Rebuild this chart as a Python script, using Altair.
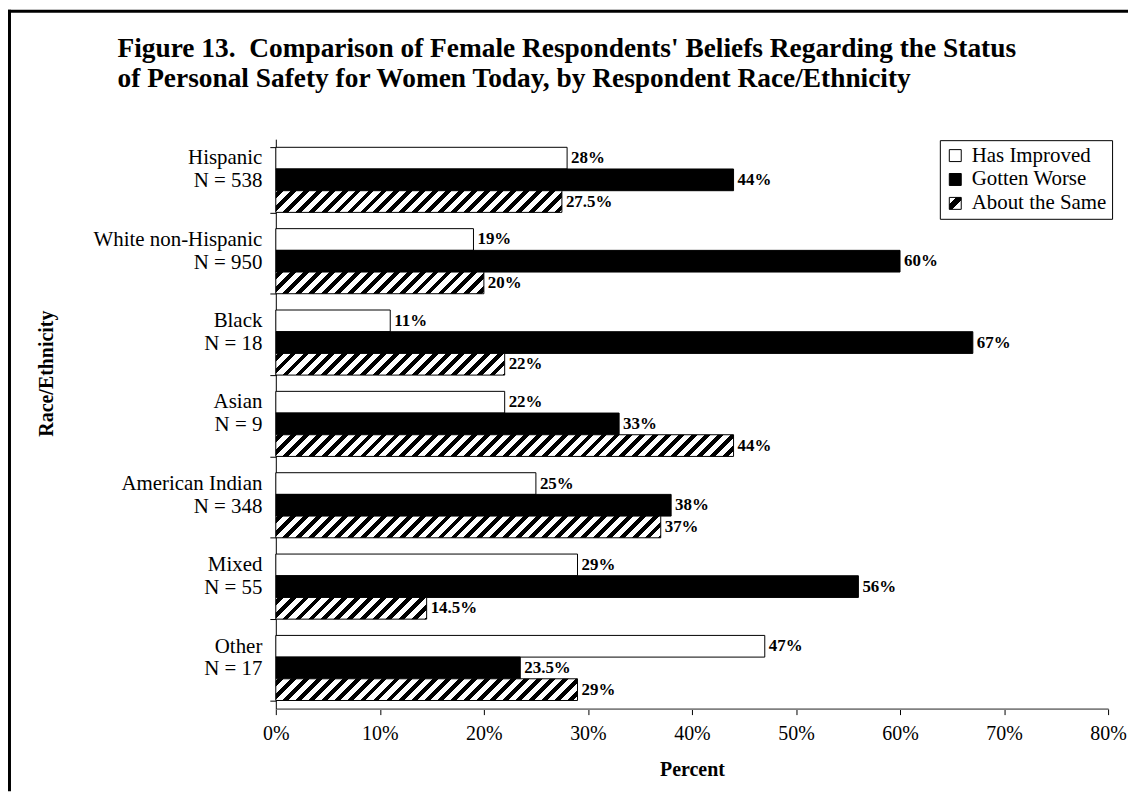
import altair as alt
import pandas as pd

# ---------------- data ----------------
categories = ["Hispanic", "White non-Hispanic", "Black", "Asian",
              "American Indian", "Mixed", "Other"]
sample_sizes = [538, 950, 18, 9, 348, 55, 17]
series_names = ["Has Improved", "Gotten Worse", "About the Same"]
has_improved = [28, 19, 11, 22, 25, 29, 47]
gotten_worse = [44, 60, 67, 33, 38, 56, 23.5]
about_same = [27.5, 20, 22, 44, 37, 14.5, 29]
x_ticks = [0, 10, 20, 30, 40, 50, 60, 70, 80]
title_lines = [
    "Figure 13.\u00a0 Comparison of Female Respondents' Beliefs Regarding the Status",
    "of Personal Safety for Women Today, by Respondent Race/Ethnicity",
]

# ---------------- layout ----------------
PLOT_W, PLOT_H = 836, 572
X_MAX = 80
PAD_INNER, PAD_OUTER = 0.2, 0.1
PAD = {"left": 269, "top": 130, "right": 20, "bottom": 83}
TOTAL_W = PLOT_W + PAD["left"] + PAD["right"]
TOTAL_H = PLOT_H + PAD["top"] + PAD["bottom"]
FONT = "Liberation Serif"

step = PLOT_H / (len(categories) - PAD_INNER + 2 * PAD_OUTER)
bar_h = step * (1 - PAD_INNER) / len(series_names)

labels = [f"{c}\nN = {n}" for c, n in zip(categories, sample_sizes)]
rows = []
for s, vals in zip(series_names, [has_improved, gotten_worse, about_same]):
    for c, lab, v in zip(categories, labels, vals):
        rows.append({"cat": c, "label": lab, "series": s, "value": v})
df = pd.DataFrame(rows)

# ---------------- hatch fill ----------------
PERIOD, BLACK_FRAC = 13.0, 0.45


def hatch(value):
    w = value / X_MAX * PLOT_W
    h = bar_h
    total = w + h
    a = w * total / (w * w + h * h)
    b = h * total / (w * w + h * h)
    stops = [{"offset": 0, "color": "white"}]
    k = 0
    while k * PERIOD < total:
        s = min((k * PERIOD + 2) / total, 1)
        e = min((k * PERIOD + 2 + BLACK_FRAC * PERIOD) / total, 1)
        stops += [{"offset": round(s, 5), "color": "white"},
                  {"offset": round(s, 5), "color": "black"},
                  {"offset": round(e, 5), "color": "black"},
                  {"offset": round(e, 5), "color": "white"}]
        k += 1
    stops.append({"offset": 1, "color": "white"})
    return {"gradient": "linear", "x1": 0, "y1": 0, "x2": a, "y2": b, "stops": stops}


legend_hatch = alt.ExprRef(expr=(
    "{gradient: 'linear', x1: 0, y1: 0, x2: 1, y2: 1, stops: ["
    "{offset: 0, color: 'white'}, {offset: 0.3, color: 'white'},"
    "{offset: 0.3, color: 'black'}, {offset: 0.62, color: 'black'},"
    "{offset: 0.62, color: 'white'}, {offset: 1, color: 'white'}]}"
))

# ---------------- encodings ----------------
y_enc = alt.Y(
    "label:N", sort=labels,
    scale=alt.Scale(paddingInner=PAD_INNER, paddingOuter=PAD_OUTER),
    axis=alt.Axis(
        title="Race/Ethnicity", labelExpr="split(datum.label, '\\n')",
        labelFont=FONT, labelFontSize=21, labelLineHeight=23, labelColor="black",
        labelPadding=8, labelLimit=300, labelOffset=-22, tickBand="extent", tickSize=6,
        tickColor="black", domainColor="black", domainWidth=1,
        titleFont=FONT, titleFontSize=20, titleFontWeight="bold", titleColor="black",
        titleX=-230, titleY=235, titleAngle=270, titleAlign="center",
        titleBaseline="middle", grid=False,
    ),
)
yoff_enc = alt.YOffset("series:N", sort=series_names,
                       scale=alt.Scale(domain=series_names, paddingInner=0, paddingOuter=0))
x_enc = alt.X(
    "value:Q", scale=alt.Scale(domain=[0, X_MAX], nice=False),
    axis=alt.Axis(
        values=x_ticks, labelExpr="datum.value + '%'", labelFlush=False,
        labelFont=FONT, labelFontSize=20, labelColor="black", labelPadding=9,
        tickSize=6, tickColor="black", domainColor="#808080", domainWidth=2,
        title="Percent", titleFont=FONT, titleFontSize=20, titleFontWeight="bold",
        titleColor="black", titleY=61, titleBaseline="middle", grid=False,
    ),
)

base = alt.Chart(df).encode(y=y_enc, yOffset=yoff_enc, x=x_enc)

bars = base.transform_filter(alt.datum.series != "About the Same").mark_bar(
    stroke="black", strokeWidth=1
).encode(
    fill=alt.Fill(
        "series:N",
        scale=alt.Scale(domain=series_names, range=["white", "black", legend_hatch]),
        legend=alt.Legend(
            title=None, orient="none", legendX=667, legendY=1,
            direction="vertical", fillColor="white", strokeColor="black",
            padding=5, labelFont=FONT, labelFontSize=21, labelColor="black",
            labelOffset=6, symbolType="square", symbolSize=144,
            symbolStrokeColor="black", symbolStrokeWidth=1, rowPadding=2,
        ),
    )
)

hatched = [
    base.transform_filter(
        (alt.datum.series == "About the Same") & (alt.datum.cat == c)
    ).mark_bar(fill=hatch(v), stroke="black", strokeWidth=1)
    for c, v in zip(categories, about_same)
]

texts = base.transform_calculate(txt="datum.value + '%'").mark_text(
    align="left", baseline="middle", dx=4, font=FONT, fontSize=17,
    fontWeight="bold", color="black"
).encode(text="txt:N")

frame_df = pd.DataFrame({"k": [0]})
frame_top = alt.Chart(frame_df).mark_rule(color="black", strokeWidth=3).encode(
    x=alt.value(-PAD["left"]), x2=alt.value(TOTAL_W - PAD["left"]),
    y=alt.value(-PAD["top"] + 1.5))
frame_left = alt.Chart(frame_df).mark_rule(color="black", strokeWidth=3).encode(
    x=alt.value(-PAD["left"] + 1.5), y=alt.value(-PAD["top"]),
    y2=alt.value(TOTAL_H - PAD["top"]))

chart = alt.layer(bars, *hatched, texts, frame_top, frame_left).properties(
    width=PLOT_W, height=PLOT_H,
    title=alt.TitleParams(
        text=title_lines, anchor="start", frame="group", dx=-159, offset=-85,
        font=FONT, fontSize=27.5, fontWeight="bold", color="black", lineHeight=31,
    ),
    autosize=alt.AutoSizeParams(type="none"),
    padding=PAD,
    background="white",
).configure_view(stroke=None)

chart.save("out.html", embed_options={"renderer": "svg", "actions": False})
